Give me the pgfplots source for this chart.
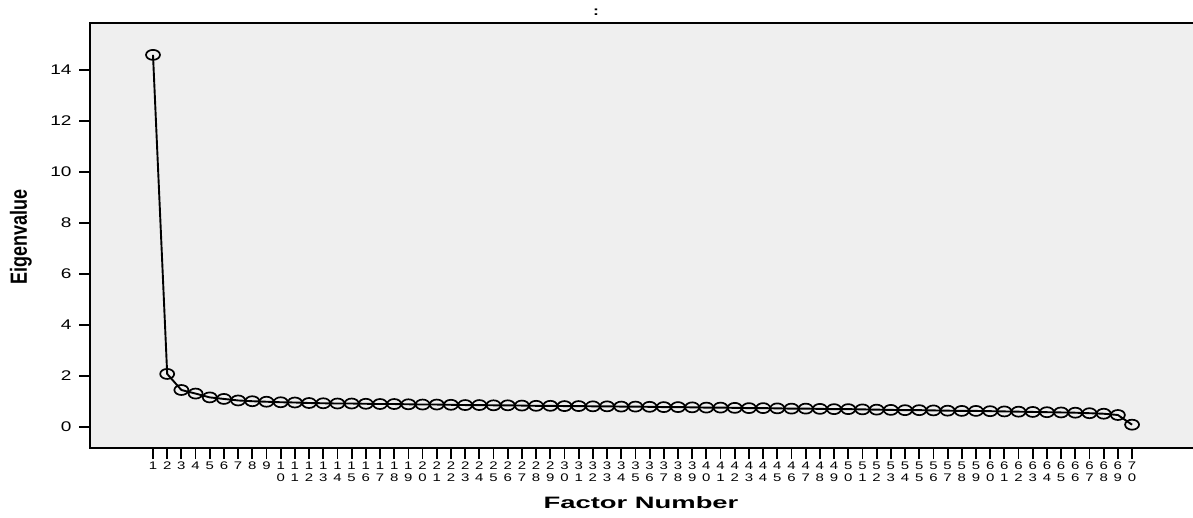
\documentclass[border=0pt]{standalone}
\usepackage{fontspec}
\setmainfont{Liberation Sans}
\usepackage{pgfplots}
\pgfplotsset{compat=1.18}
\definecolor{plotbg}{HTML}{EFEFEF}
\begin{document}
\begin{tikzpicture}
\begin{axis}[
  at={(90pt,69pt)}, anchor=south west,
  scale only axis, width=1106pt, height=425pt,
  xmin=-3.44, xmax=74.51, ymin=-0.824, ymax=15.84,
  axis background/.style={fill=plotbg},
  axis line style={line width=1.5pt},
  tick align=outside, major tick length=11pt,
  xtick pos=bottom, ytick pos=left,
  every tick/.style={line width=1.8pt, black},
  ytick={0,2,4,6,8,10,12,14},
  xtick={1,...,70},
  xticklabels={1,2,3,4,5,6,7,8,9,{1\\0},{1\\1},{1\\2},{1\\3},{1\\4},{1\\5},{1\\6},{1\\7},{1\\8},{1\\9},{2\\0},{2\\1},{2\\2},{2\\3},{2\\4},{2\\5},{2\\6},{2\\7},{2\\8},{2\\9},{3\\0},{3\\1},{3\\2},{3\\3},{3\\4},{3\\5},{3\\6},{3\\7},{3\\8},{3\\9},{4\\0},{4\\1},{4\\2},{4\\3},{4\\4},{4\\5},{4\\6},{4\\7},{4\\8},{4\\9},{5\\0},{5\\1},{5\\2},{5\\3},{5\\4},{5\\5},{5\\6},{5\\7},{5\\8},{5\\9},{6\\0},{6\\1},{6\\2},{6\\3},{6\\4},{6\\5},{6\\6},{6\\7},{6\\8},{6\\9},{7\\0}},
  xticklabel style={align=center, font=\fontsize{11}{11.5}\selectfont, inner sep=1pt, xscale=1.36, yshift=-2pt},
  yticklabel style={font=\fontsize{14}{16}\selectfont, xscale=1.36, xshift=-2pt},
  /pgf/number format/assume math mode=true,
  clip=false,
]
\addplot[black, line width=1.9pt, mark=o, mark size=5pt,
  mark options={xscale=1.4, line width=1.7pt, solid}] coordinates {
(1,14.59)(2,2.08)(3,1.45)(4,1.31)(5,1.16)(6,1.10)(7,1.04)(8,1.01)(9,0.99)(10,0.97)
(11,0.96)(12,0.94)(13,0.93)(14,0.92)(15,0.92)(16,0.91)(17,0.90)(18,0.90)(19,0.89)(20,0.88)
(21,0.88)(22,0.87)(23,0.86)(24,0.86)(25,0.85)(26,0.85)(27,0.84)(28,0.83)(29,0.83)(30,0.82)
(31,0.82)(32,0.81)(33,0.81)(34,0.80)(35,0.80)(36,0.79)(37,0.78)(38,0.78)(39,0.77)(40,0.76)
(41,0.76)(42,0.75)(43,0.74)(44,0.74)(45,0.73)(46,0.72)(47,0.72)(48,0.71)(49,0.70)(50,0.70)
(51,0.69)(52,0.68)(53,0.67)(54,0.66)(55,0.66)(56,0.65)(57,0.64)(58,0.63)(59,0.63)(60,0.62)
(61,0.61)(62,0.60)(63,0.59)(64,0.58)(65,0.57)(66,0.56)(67,0.54)(68,0.52)(69,0.47)(70,0.09)
};
\end{axis}
\node[font=\bfseries\fontsize{16.5}{18}\selectfont, xscale=1.66] at (641pt,14pt) {Factor Number};
\node[font=\bfseries\fontsize{18}{20}\selectfont, rotate=90, yscale=1.3] at (21pt,280pt) {Eigenvalue};
\node[font=\bfseries\fontsize{13}{14}\selectfont, xscale=1.36] at (596pt,505pt) {:};
\pgfresetboundingbox
\path[use as bounding box] (0,0) rectangle (1193pt,517pt);
\end{tikzpicture}
\end{document}
